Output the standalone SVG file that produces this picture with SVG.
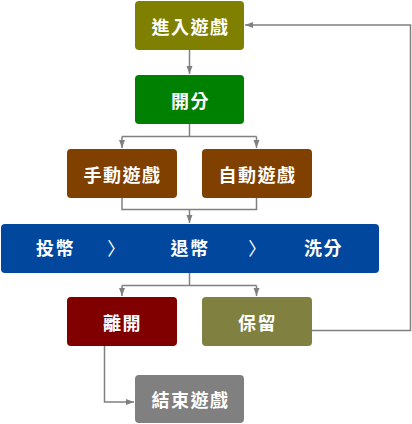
<svg xmlns="http://www.w3.org/2000/svg" width="412" height="424" viewBox="0 0 412 424">
<defs>
<marker id="ah" viewBox="0 0 8 8" refX="8" refY="4" markerWidth="8" markerHeight="8" markerUnits="userSpaceOnUse" orient="auto">
<path d="M0,1 L8,4 L0,7 z" fill="#808080"/>
</marker>
</defs>
<style>
.n rect{stroke:none}
.t{font-family:"Noto Sans CJK TC","Noto Sans CJK SC",sans-serif;font-size:18px;font-weight:bold;fill:#ffffff;text-anchor:middle;dominant-baseline:central;letter-spacing:1.5px}
.c path{fill:none;stroke:#808080;stroke-width:1.5}
</style>
<g class="c" id="connectors">
<path d="M189.5,50 V74" marker-end="url(#ah)"/>
<path d="M189.5,124 V136.5 M122,136.5 H256.5 M122,136.5 V148" marker-end="url(#ah)"/>
<path d="M256.5,136.5 V148" marker-end="url(#ah)"/>
<path d="M122,198 V209.5 H256.5 V198 M189.5,209.5 V223" marker-end="url(#ah)"/>
<path d="M189.5,273 V285.5 M122,285.5 H256.5 M122,285.5 V296" marker-end="url(#ah)"/>
<path d="M256.5,285.5 V296" marker-end="url(#ah)"/>
<path d="M104.5,346 V402 H134" marker-end="url(#ah)"/>
<path d="M312,330.5 H410.5 V25 H245" marker-end="url(#ah)"/>
</g>
<g class="n" id="enter"><rect x="135" y="1" width="109" height="49" rx="4" fill="#808000"/><text class="t" x="190.5" y="25.5">進入遊戲</text></g>
<g class="n" id="start"><rect x="135" y="75" width="109" height="49" rx="4" fill="#008000"/><text class="t" x="190.5" y="99.5">開分</text></g>
<g class="n" id="manual"><rect x="67" y="149" width="110" height="49" rx="4" fill="#804000"/><text class="t" x="122.5" y="173.5">手動遊戲</text></g>
<g class="n" id="auto"><rect x="202" y="149" width="110" height="49" rx="4" fill="#804000"/><text class="t" x="257.5" y="173.5">自動遊戲</text></g>
<g class="n" id="bar"><rect x="1" y="224" width="378" height="49" rx="4" fill="#00479d"/>
<text class="t" x="55.5" y="246.5">投幣</text>
<text class="t" x="117" y="246.5" style="font-weight:normal">〉</text>
<text class="t" x="190" y="246.5">退幣</text>
<text class="t" x="258" y="246.5" style="font-weight:normal">〉</text>
<text class="t" x="323.5" y="246.5">洗分</text></g>
<g class="n" id="leave"><rect x="67" y="297" width="110" height="49" rx="4" fill="#800000"/><text class="t" x="122.5" y="321.5">離開</text></g>
<g class="n" id="keep"><rect x="202" y="297" width="110" height="49" rx="4" fill="#808040"/><text class="t" x="257.5" y="321.5">保留</text></g>
<g class="n" id="end"><rect x="135" y="375" width="109" height="48" rx="4" fill="#808080"/><text class="t" x="190.5" y="399">結束遊戲</text></g>
</svg>
